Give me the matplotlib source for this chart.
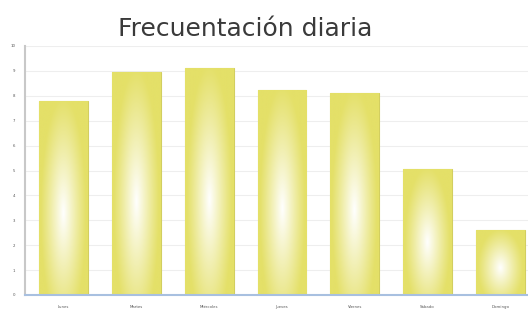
import numpy as np
import matplotlib
matplotlib.use("Agg")
import matplotlib.pyplot as plt

days = ["Lunes", "Martes", "Miércoles", "Jueves", "Viernes", "Sábado", "Domingo"]
visits = [7.8, 8.95, 9.1, 8.25, 8.1, 5.05, 2.6]
y_ticks = list(range(0, 11))

BAR_YELLOW = np.array([228, 224, 104]) / 255.0

fig = plt.figure(figsize=(5.28, 3.09), dpi=100)
ax = fig.add_axes([25 / 528, 14 / 309, 503 / 528, 249 / 309])

x = np.arange(len(days))
bars = ax.bar(x, visits, width=0.67, color=BAR_YELLOW, edgecolor="#d2ce60",
              linewidth=0.8, zorder=2)

# soft white glow in each bar
ny, nx = 200, 60
gx = np.linspace(-1, 1, nx)
gy = np.linspace(0, 1, ny)
GX, GY = np.meshgrid(gx, gy)
for b in bars:
    h = b.get_height()
    r = np.sqrt((GX / 0.95) ** 2 + ((GY - 0.42) / 0.6) ** 2)
    w = np.clip(1 - r, 0, 1) ** 1.1
    img = np.empty((ny, nx, 3))
    for k in range(3):
        img[..., k] = BAR_YELLOW[k] + (1 - BAR_YELLOW[k]) * w
    im = ax.imshow(img, extent=(b.get_x(), b.get_x() + b.get_width(), 0, h),
                   origin="lower", aspect="auto", zorder=2.5)
    im.set_clip_path(b)

ax.set_xlim(-0.53, 6.38)
ax.set_ylim(0, 10)
ax.set_yticks(y_ticks)
ax.set_yticklabels([str(t) for t in y_ticks])
ax.set_xticks(x)
ax.set_xticklabels(days)
ax.tick_params(axis="both", labelsize=2.8, colors="#555555", length=0, pad=7)
ax.grid(axis="y", color="#eeeeee", linewidth=0.8, zorder=0)
ax.set_axisbelow(True)

for s in ["top", "right"]:
    ax.spines[s].set_visible(False)
ax.spines["left"].set_color("#c8c8c8")
ax.spines["left"].set_linewidth(1.5)
ax.spines["bottom"].set_color("#a8c0e0")
ax.spines["bottom"].set_linewidth(1.5)

fig.text(245 / 528, 0.905, "Frecuentación diaria", ha="center", va="center",
         fontsize=18, color="#3a3a3a", family="DejaVu Sans")

fig.savefig("out.png", dpi=100)
